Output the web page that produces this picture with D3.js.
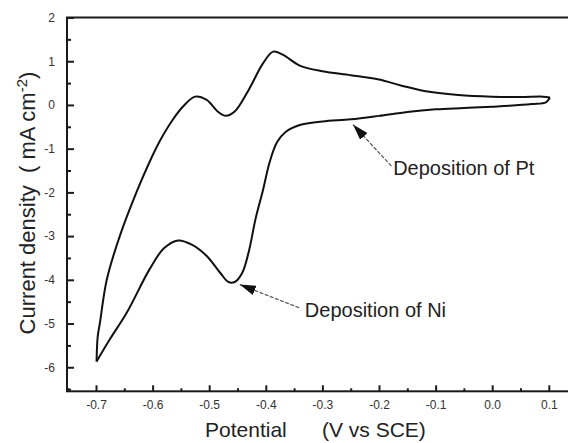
<!DOCTYPE html>
<html>
<head>
<meta charset="utf-8">
<script src="https://cdn.jsdelivr.net/npm/d3@7"></script>
<style>
  html, body { margin: 0; padding: 0; background: #fff; }
  svg { display: block; font-family: Arial, "Liberation Sans", Helvetica, sans-serif; }
</style>
</head>
<body>
<svg id="chart" width="568" height="443"></svg>
<script>
// cathodic scan: 0.1 V -> -0.7 V (potential, current density)
const cathodicScan = [
  [0.102, 0.17], [0.095, 0.06], [0.07, 0.02], [0.03, -0.02], [0.0, -0.04],
  [-0.05, -0.07], [-0.10, -0.10], [-0.15, -0.16], [-0.20, -0.25], [-0.25, -0.33],
  [-0.30, -0.38], [-0.34, -0.46], [-0.365, -0.62], [-0.38, -0.85], [-0.393, -1.30],
  [-0.405, -1.95], [-0.418, -2.6], [-0.430, -3.35], [-0.442, -3.85], [-0.455, -4.05],
  [-0.466, -4.05], [-0.48, -3.85], [-0.504, -3.46], [-0.53, -3.2], [-0.555, -3.1],
  [-0.58, -3.28], [-0.605, -3.75], [-0.646, -4.76], [-0.675, -5.35], [-0.699, -5.87]
];

// anodic scan: -0.7 V -> 0.1 V
const anodicScan = [
  [-0.699, -5.87], [-0.697, -5.3], [-0.693, -4.98], [-0.681, -4.0], [-0.658, -3.0],
  [-0.627, -1.95], [-0.607, -1.35], [-0.587, -0.82], [-0.565, -0.35], [-0.545, -0.02],
  [-0.525, 0.19], [-0.505, 0.12], [-0.485, -0.15], [-0.471, -0.25], [-0.455, -0.15],
  [-0.43, 0.35], [-0.405, 0.95], [-0.387, 1.22], [-0.37, 1.15], [-0.34, 0.90],
  [-0.30, 0.77], [-0.25, 0.68], [-0.20, 0.58], [-0.16, 0.44], [-0.12, 0.32],
  [-0.06, 0.23], [0.0, 0.19], [0.05, 0.18], [0.09, 0.19], [0.102, 0.17]
];

const xTicks = [-0.7, -0.6, -0.5, -0.4, -0.3, -0.2, -0.1, 0.0, 0.1];
const xTickLabels = ["-0.7", "-0.6", "-0.5", "-0.4", "-0.3", "-0.2", "-0.1", "0.0", "0.1"];
const xMinorTicks = [-0.75, -0.65, -0.55, -0.45, -0.35, -0.25, -0.15, -0.05, 0.05];
const yTicks = [2, 1, 0, -1, -2, -3, -4, -5, -6];
const yTickLabels = ["2", "1", "0", "-1", "-2", "-3", "-4", "-5", "-6"];
const yMinorTicks = [1.5, 0.5, -0.5, -1.5, -2.5, -3.5, -4.5, -5.5, -6.5];

// annotations: label, arrow tip, arrow tail, text anchor (data units)
const annotations = [
  {label: "Deposition of Pt", tip: [-0.246, -0.45], tail: [-0.178, -1.40], text: [-0.175, -1.60]},
  {label: "Deposition of Ni", tip: [-0.446, -4.11], tail: [-0.341, -4.64], text: [-0.331, -4.86]}
];

const svg = d3.select("#chart");

const x = d3.scaleLinear().domain([-0.75, 0.15]).range([67.7, 577.1]);
const y = d3.scaleLinear().domain([-6.55, 2]).range([391.3, 17.5]);

svg.append("rect").attr("width", 568).attr("height", 443).attr("fill", "#fff");

// frame
svg.append("rect")
  .attr("x", x(-0.75) - 0.7).attr("y", y(2))
  .attr("width", x(0.15) - x(-0.75)).attr("height", y(-6.55) - y(2))
  .attr("fill", "none").attr("stroke", "#1a1a1a").attr("stroke-width", 2);

// x axis: major ticks with labels, minor ticks without
svg.append("g")
  .attr("transform", `translate(0,${y(-6.55)})`)
  .call(d3.axisBottom(x).tickValues(xTicks).tickSize(-6).tickPadding(9)
    .tickFormat((d, i) => xTickLabels[i]));
svg.append("g")
  .attr("transform", `translate(0,${y(-6.55)})`)
  .call(d3.axisBottom(x).tickValues(xMinorTicks).tickSize(-3).tickFormat(""));

svg.append("g")
  .attr("transform", `translate(${x(-0.75) - 0.7},0)`)
  .call(d3.axisLeft(y).tickValues(yTicks).tickSize(-7).tickPadding(12)
    .tickFormat((d, i) => yTickLabels[i]));
svg.append("g")
  .attr("transform", `translate(${x(-0.75) - 0.7},0)`)
  .call(d3.axisLeft(y).tickValues(yMinorTicks.filter(v => v < 2)).tickSize(-4).tickFormat(""));

svg.selectAll(".domain").remove();
svg.selectAll(".tick line").attr("stroke", "#1a1a1a").attr("stroke-width", 2);
svg.selectAll(".tick text")
  .attr("font-family", "Arial, 'Liberation Sans', sans-serif")
  .attr("font-size", 12).attr("fill", "#333");

// the voltammogram
const line = d3.line()
  .x(d => x(d[0]))
  .y(d => y(d[1]))
  .curve(d3.curveCatmullRom.alpha(0.5));

svg.selectAll(".scan")
  .data([cathodicScan, anodicScan])
  .join("path")
  .attr("class", "scan")
  .attr("d", line)
  .attr("fill", "none")
  .attr("stroke", "#111")
  .attr("stroke-width", 2)
  .attr("stroke-linejoin", "round");

// arrows
svg.append("defs").append("marker")
  .attr("id", "head")
  .attr("viewBox", "0 0 16 10")
  .attr("refX", 16).attr("refY", 5)
  .attr("markerWidth", 16).attr("markerHeight", 10)
  .attr("markerUnits", "userSpaceOnUse")
  .attr("orient", "auto")
  .append("path").attr("d", "M0,0 L16,5 L0,10 Z").attr("fill", "#111");

svg.selectAll(".arrow")
  .data(annotations)
  .join("line")
  .attr("class", "arrow")
  .attr("x1", d => x(d.tail[0])).attr("y1", d => y(d.tail[1]))
  .attr("x2", d => x(d.tip[0])).attr("y2", d => y(d.tip[1]))
  .attr("stroke", "#555").attr("stroke-width", 1.2)
  .attr("stroke-dasharray", "4,1.5")
  .attr("marker-end", "url(#head)");

svg.selectAll(".note")
  .data(annotations)
  .join("text")
  .attr("class", "note")
  .attr("x", d => x(d.text[0])).attr("y", d => y(d.text[1]))
  .attr("font-size", 20).attr("fill", "#222")
  .text(d => d.label);

// axis titles
const xTitle = svg.append("text")
  .attr("y", 437).attr("font-size", 21).attr("fill", "#222");
xTitle.append("tspan").attr("x", 205).text("Potential");
xTitle.append("tspan").attr("x", 322).text("(V vs SCE)");

const yTitle = svg.append("text")
  .attr("transform", "translate(35,203) rotate(-90)")
  .attr("text-anchor", "middle")
  .attr("font-size", 22).attr("fill", "#222");
yTitle.append("tspan").text("Current density\u00a0\u00a0( mA cm");
yTitle.append("tspan").attr("font-size", 15).attr("dy", -8).text("-2");
yTitle.append("tspan").attr("dy", 8).text(")");
</script>
</body>
</html>
